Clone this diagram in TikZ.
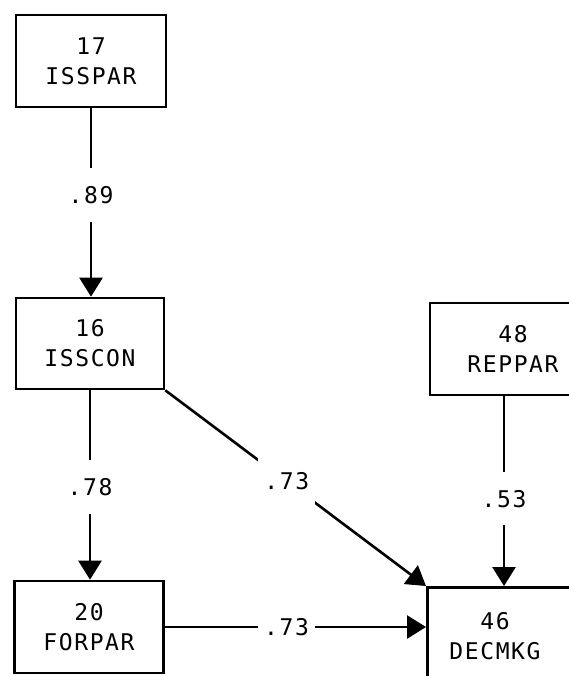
\documentclass[tikz,border=0pt]{standalone}
\usepackage{fontspec}
\newfontfamily\gothic[LetterSpace=7]{DejaVu Sans Mono}
\usetikzlibrary{arrows.meta}
\begin{document}
\begin{tikzpicture}[x=1pt,y=-1pt,
  every node/.style={font=\gothic\fontsize{23}{30}\selectfont, align=center},
  varbox/.style={draw, line width=2.6pt, inner sep=0pt},
  link/.style={line width=2.6pt, -{Triangle[width=23pt,length=19pt]}},
  coef/.style={fill=white, inner xsep=6pt, inner ysep=18pt}
]
\useasboundingbox (0,0) rectangle (569,676);
\clip (0,0) rectangle (569,676);

% variables
\node[varbox, minimum width=150pt, minimum height=92pt] (v17) at (91,61) {17\\ISSPAR};
\node[varbox, minimum width=148pt, minimum height=91pt] (v16) at (90,343.5) {16\\ISSCON};
\node[varbox, minimum width=149pt, minimum height=92pt] (v20) at (89,627) {20\\FORPAR};
\node[varbox, minimum width=166pt, minimum height=92pt] (v48) at (513,349) {48\\REPPAR};
\node[varbox, minimum width=200pt, minimum height=160pt, anchor=north west] (v46) at (426,586) {};
\node (t46) at (495,636) {46\\DECMKG};

% path coefficients
\draw[link] (v17.south) -- node[coef, pos=0.46] {.89} (v17.south |- v16.north);
\draw[link] (v16.south) -- node[coef, pos=0.51] {.78} (v16.south |- v20.north);
\draw[link] (v16.south east) -- node[coef, pos=0.466] {.73} (v46.north west);
\coordinate (c48) at ([xshift=-9pt]v48.south);
\draw[link] (c48) -- node[coef, pos=0.54] {.53} (c48 |- v46.north);
\draw[link] (v20.east) -- node[coef, pos=0.466] {.73} (v20.east -| v46.west);
\end{tikzpicture}
\end{document}
